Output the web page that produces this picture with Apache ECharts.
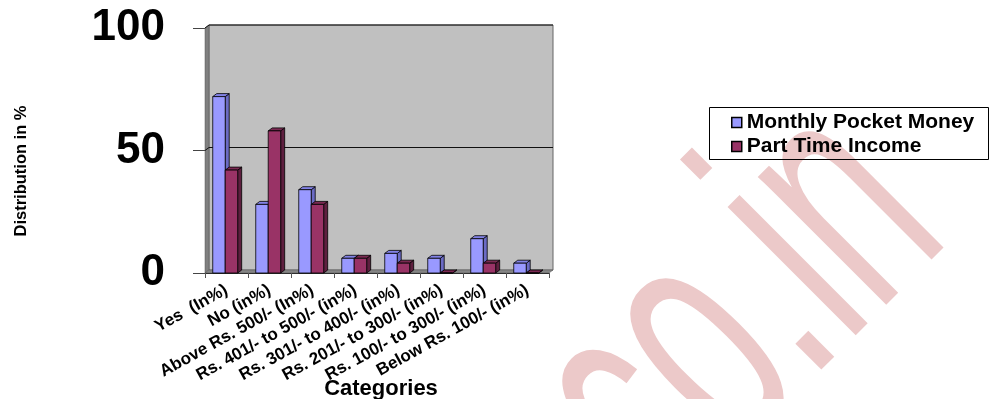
<!DOCTYPE html>
<html>
<head>
<meta charset="utf-8">
<script src="https://cdn.jsdelivr.net/npm/echarts@6/dist/echarts.min.js"></script>
<style>
  html, body { margin: 0; padding: 0; background: #ffffff; }
  #chart { width: 991px; height: 399px; }
</style>
</head>
<body>
<div id="chart"></div>
<script>
// Survey categories and the share (in %) of respondents per source of money
const categories = [
  'Yes  (In%)',
  'No (in%)',
  'Above Rs. 500/- (In%)',
  'Rs. 401/- to 500/- (in%)',
  'Rs. 301/- to 400/- (in%)',
  'Rs. 201/- to 300/- (in%)',
  'Rs. 100/- to 300/- (in%)',
  'Below Rs. 100/- (in%)'
];
const pocketMoney = [72, 28, 34, 6, 8, 6, 14, 4];
const partTimeIncome = [42, 58, 28, 6, 4, 0, 4, 0];
const seriesNames = ['Monthly Pocket Money', 'Part Time Income'];
const yTicks = [0, 50, 100];

const FONT = '"Liberation Sans", Arial, sans-serif';
// depth offset of the pseudo-3D box (right, up)
const DX = 4, DY = -3;

const palette = [
  { front: '#9999FF', side: '#6B6BC4', top: '#8282E6' },
  { front: '#993366', side: '#5E1F3F', top: '#7A2952' }
];

// back wall, left wall, floor and the gridlines on the back wall
function renderWalls(params, api) {
  const cs = params.coordSys;
  const x0 = cs.x, x1 = cs.x + cs.width;
  const yTop = cs.y, yBot = cs.y + cs.height;
  const children = [
    { type: 'rect',
      shape: { x: x0 + DX, y: yTop + DY, width: cs.width, height: cs.height },
      style: { fill: '#C0C0C0', stroke: '#666', lineWidth: 1 } },
    { type: 'polygon',
      shape: { points: [[x0, yTop], [x0 + DX, yTop + DY], [x0 + DX, yBot + DY], [x0, yBot]] },
      style: { fill: '#808080', stroke: '#555', lineWidth: 0.5 } },
    { type: 'polygon',
      shape: { points: [[x0, yBot], [x0 + DX, yBot + DY], [x1 + DX, yBot + DY], [x1, yBot]] },
      style: { fill: '#858585', stroke: '#555', lineWidth: 0.5 } }
  ];
  yTicks.forEach(function (t) {
    if (t === 0) return;
    const y = api.coord([0, t])[1];
    children.push({
      type: 'polyline',
      shape: { points: [[x0, y], [x0 + DX, y + DY], [x1 + DX, y + DY]] },
      style: { stroke: '#111', lineWidth: 1, fill: null }
    });
  });
  return { type: 'group', children: children };
}

// one 3D-looking column: front face, right side and top
function barRenderer(slot) {
  const c = palette[slot];
  return function (params, api) {
    const idx = api.value(0);
    const val = api.value(1);
    const base = api.coord([idx, 0]);
    const top = api.coord([idx, val]);
    const bw = api.size([1, 0])[0];
    const w = bw * 0.29;
    const x = base[0] - bw / 2 + bw * 0.18 + slot * w;
    const yT = top[1], yB = base[1];
    return {
      type: 'group',
      children: [
        { type: 'polygon',
          shape: { points: [[x + w, yT], [x + w + DX, yT + DY], [x + w + DX, yB + DY], [x + w, yB]] },
          style: { fill: c.side, stroke: '#000', lineWidth: 0.8 } },
        { type: 'polygon',
          shape: { points: [[x, yT], [x + DX, yT + DY], [x + w + DX, yT + DY], [x + w, yT]] },
          style: { fill: c.top, stroke: '#000', lineWidth: 0.8 } },
        { type: 'rect',
          shape: { x: x, y: yT, width: w, height: yB - yT },
          style: { fill: c.front, stroke: '#000', lineWidth: 0.8 } }
      ]
    };
  };
}

const chart = echarts.init(document.getElementById('chart'), null, { renderer: 'canvas' });

chart.setOption({
  animation: false,
  backgroundColor: '#ffffff',
  textStyle: { fontFamily: FONT },
  grid: { left: 205, right: 442, top: 28, bottom: 126, containLabel: false, outerBoundsMode: 'none' },
  legend: {
    orient: 'vertical',
    left: 731,
    top: 112,
    padding: 0,
    itemWidth: 10,
    itemHeight: 10,
    itemGap: 3,
    icon: 'rect',
    textStyle: { fontFamily: FONT, fontSize: 21, fontWeight: 'bold', color: '#000' },
    data: [
      { name: seriesNames[0], itemStyle: { color: palette[0].front, borderColor: '#000', borderWidth: 1.5 } },
      { name: seriesNames[1], itemStyle: { color: palette[1].front, borderColor: '#000', borderWidth: 1.5 } }
    ]
  },
  xAxis: {
    type: 'category',
    data: categories,
    axisLine: { show: true, lineStyle: { color: '#222', width: 1 } },
    axisTick: { show: true, length: 5, lineStyle: { color: '#555' } },
    axisLabel: {
      interval: 0,
      rotate: 29,
      margin: 16,
      fontFamily: FONT,
      fontSize: 17,
      fontWeight: 'bold',
      color: '#000'
    },
    splitLine: { show: false }
  },
  yAxis: {
    type: 'value',
    min: 0,
    max: 100,
    interval: 50,
    axisLine: { show: true, lineStyle: { color: '#333' } },
    axisTick: { show: true, length: 12, lineStyle: { color: '#444' } },
    axisLabel: { margin: 40, fontFamily: FONT, fontSize: 44, fontWeight: 'bold', color: '#000' },
    splitLine: { show: false }
  },
  graphic: [
    {
      type: 'text',
      z: 0,
      x: 670,
      y: 530,
      rotation: Math.PI / 4,
      scaleX: 0.56,
      silent: true,
      style: {
        text: 'co.in',
        x: 0,
        y: -101,
        verticalAlign: 'middle',
        align: 'left',
        font: '343px "Liberation Sans", Arial, sans-serif',
        fill: '#ECC9C9',
        stroke: '#ffffff',
        lineWidth: 5
      }
    },
    {
      type: 'rect',
      z: 5,
      shape: { x: 709.5, y: 107.5, width: 279, height: 52 },
      style: { fill: null, stroke: '#000', lineWidth: 1 }
    },
    {
      type: 'text',
      z: 5,
      x: 21,
      y: 171,
      rotation: Math.PI / 2,
      style: {
        text: 'Distribution in %',
        align: 'center',
        verticalAlign: 'middle',
        font: 'bold 16.5px "Liberation Sans", Arial, sans-serif',
        fill: '#000'
      }
    },
    {
      type: 'text',
      z: 5,
      x: 381,
      y: 389,
      style: {
        text: 'Categories',
        align: 'center',
        verticalAlign: 'middle',
        font: 'bold 22px "Liberation Sans", Arial, sans-serif',
        fill: '#000'
      }
    }
  ],
  series: [
    {
      name: 'walls',
      type: 'custom',
      z: 1,
      silent: true,
      renderItem: renderWalls,
      encode: { x: 0, y: 1 },
      data: [[0, 0]]
    },
    {
      name: seriesNames[0],
      type: 'custom',
      z: 2,
      itemStyle: { color: palette[0].front },
      renderItem: barRenderer(0),
      encode: { x: 0, y: 1 },
      data: pocketMoney.map(function (v, i) { return [i, v]; })
    },
    {
      name: seriesNames[1],
      type: 'custom',
      z: 2,
      itemStyle: { color: palette[1].front },
      renderItem: barRenderer(1),
      encode: { x: 0, y: 1 },
      data: partTimeIncome.map(function (v, i) { return [i, v]; })
    }
  ]
});
</script>
</body>
</html>
